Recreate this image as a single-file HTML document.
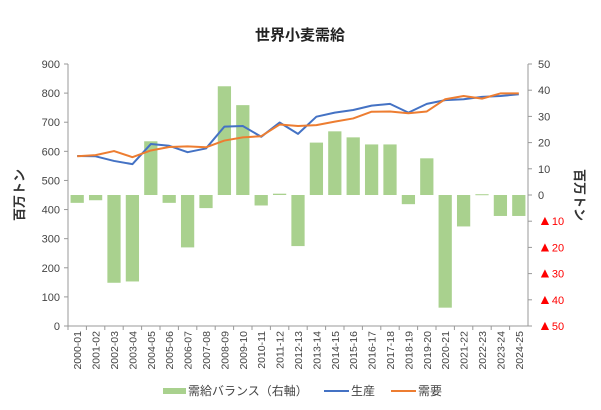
<!DOCTYPE html>
<html><head><meta charset="utf-8"><style>
body{margin:0;background:#fff;font-family:"Liberation Sans","Noto Sans CJK JP",sans-serif}
svg text{font-family:"Liberation Sans","Noto Sans CJK JP",sans-serif}
</style></head><body>
<svg id="c" width="601" height="405" xmlns="http://www.w3.org/2000/svg">
<text x="300" y="40" text-anchor="middle" font-size="15" font-weight="bold" fill="#222">世界小麦需給</text>
<g id="plot"></g>
<text transform="translate(24,195) rotate(-90)" text-anchor="middle" font-size="13" font-weight="bold" fill="#333">百万トン</text>
<text transform="translate(575,195) rotate(90)" text-anchor="middle" font-size="13" font-weight="bold" fill="#333">百万トン</text>
<g>
<rect x="163" y="388" width="23" height="6" fill="#a9d18e"/>
<text x="188" y="395" font-size="12" fill="#444">需給バランス（右軸）</text>
<line x1="324" y1="391" x2="349" y2="391" stroke="#4472c4" stroke-width="2"/>
<text x="351" y="395" font-size="12" fill="#444">生産</text>
<line x1="391" y1="391" x2="416" y2="391" stroke="#ed7d31" stroke-width="2"/>
<text x="418" y="395" font-size="12" fill="#444">需要</text>
</g>
</svg>
<script>
const categories=["2000-01","2001-02","2002-03","2003-04","2004-05","2005-06","2006-07","2007-08","2008-09","2009-10","2010-11","2011-12","2012-13","2013-14","2014-15","2015-16","2016-17","2017-18","2018-19","2019-20","2020-21","2021-22","2022-23","2023-24","2024-25"];
const balance=[-3,-2,-33.5,-33,20.5,-3,-20,-5,41.5,34.3,-4,0.5,-19.5,20,24.3,22,19.3,19.3,-3.5,14,-43,-12,0.3,-8,-8];
const production=[584,583,567,556,625,619,597,610,685,687,650,699,660,719,733,742,757,763,733,763,776,779,787,790,796];
const consumption=[583,587,601,580,603,615,617,614,637,648,652,692,687,690,702,713,736,737,731,737,779,790,781,799,799];
const leftTicks=[0,100,200,300,400,500,600,700,800,900];
const rightTicks=[50,40,30,20,10,0,-10,-20,-30,-40,-50];
const NS="http://www.w3.org/2000/svg";
const X0=68,X1=528,Y0=64,Y1=326;
const bw=(X1-X0)/categories.length;
const xc=i=>X0+bw*(i+0.5);
const yL=v=>Y1-(v/900)*(Y1-Y0);
const yR=v=>Y1-((v+50)/100)*(Y1-Y0);
const g=document.getElementById('plot');
function mk(t,a,p){const e=document.createElementNS(NS,t);for(const k in a)e.setAttribute(k,a[k]);(p||g).appendChild(e);return e;}
balance.forEach((v,i)=>{const y=Math.min(yR(v),yR(0)),h=Math.abs(yR(v)-yR(0));
const r=mk('rect',{x:xc(i)-bw*0.36,y:y,width:bw*0.72,height:Math.max(h,1),fill:'#a9d18e'});

});
const la=mk('line',{x1:X0,y1:Y0,x2:X0,y2:Y1,stroke:'#999'});


const ra=mk('line',{x1:X1,y1:Y0,x2:X1,y2:Y1,stroke:'#999'});


const xa=mk('line',{x1:X0,y1:Y1,x2:X1,y2:Y1,stroke:'#999'});


leftTicks.forEach(v=>{mk('line',{x1:X0-4,y1:yL(v),x2:X0,y2:yL(v),stroke:'#999'});
const t=mk('text',{x:X0-8,y:yL(v)+4,'text-anchor':'end','font-size':11,fill:'#444'});t.textContent=v;

});
rightTicks.forEach(v=>{mk('line',{x1:X1,y1:yR(v),x2:X1+4,y2:yR(v),stroke:'#999'});
const t=mk('text',{x:X1+10,y:yR(v)+4,'font-size':11,fill:v<0?'#f00':'#444'});
if(v<0){const a=mk('tspan',{'font-size':14},t);a.textContent='▲';const b=mk('tspan',{},t);b.textContent=String(-v);}
else t.textContent=v;

});
categories.forEach((c,i)=>{const x=X0+bw*i;mk('line',{x1:x,y1:Y1,x2:x,y2:Y1+4,stroke:'#999'});
const t=mk('text',{transform:`translate(${xc(i)+4},${Y1+5}) rotate(-90)`,'text-anchor':'end','font-size':10.5,fill:'#444'});t.textContent=c;

});
mk('line',{x1:X1,y1:Y1,x2:X1+4,y2:Y1,stroke:'#999'});
function line(d,col,name){const p=mk('polyline',{points:d.map((v,i)=>xc(i)+','+yL(v)).join(' '),fill:'none',stroke:col,'stroke-width':2,'stroke-linejoin':'round'});

}
line(production,'#4472c4','production-line');
line(consumption,'#ed7d31','consumption-line');
</script>
</body></html>
